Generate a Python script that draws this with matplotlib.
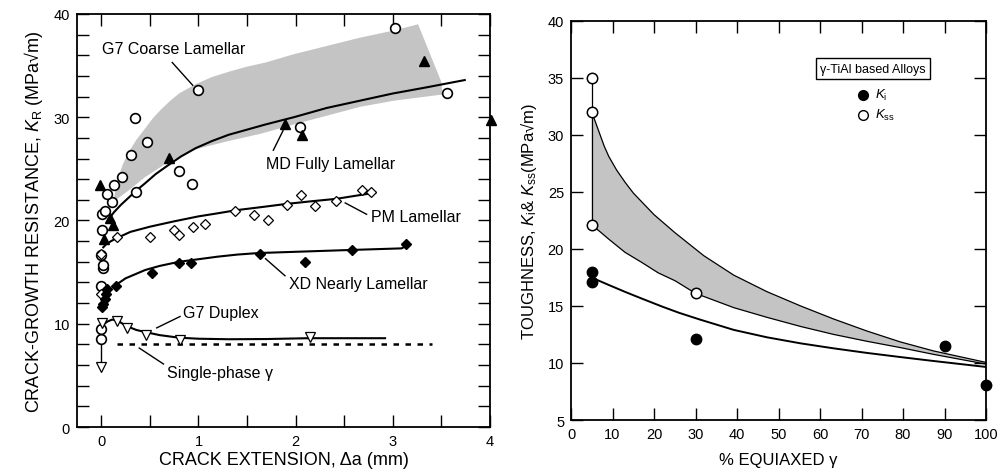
import matplotlib
matplotlib.use("Agg")
import matplotlib.pyplot as plt
from matplotlib.ticker import MultipleLocator

plt.rcParams['font.family'] = ['Liberation Sans', 'DejaVu Sans']
plt.rcParams['mathtext.fontset'] = 'custom'
plt.rcParams['mathtext.rm'] = 'Liberation Sans'
plt.rcParams['mathtext.it'] = 'Liberation Sans:italic'

# ---------------- Left panel: R-curves ----------------
g7_coarse_x = [0.00, 0.00, 0.00, 0.02, 0.02, 0.00, 0.01, 0.01, 0.04, 0.11, 0.06, 0.13, 0.21,
               0.36, 0.31, 0.47, 0.35, 0.80, 0.93, 0.99, 2.04, 3.02, 3.56]
g7_coarse_y = [8.5, 9.5, 13.7, 15.4, 15.7, 16.7, 19.1, 20.6, 20.95, 21.8, 22.6, 23.4, 24.2,
               22.8, 26.3, 27.6, 29.9, 24.8, 23.5, 32.6, 29.1, 38.6, 32.3]

md_x = [-0.01, 0.09, 0.12, 0.03, 0.70, 1.89, 2.07, 3.32, 4.01]
md_y = [23.4, 20.2, 19.6, 18.2, 26.1, 29.3, 28.3, 35.4, 29.7]

pm_x = [0.00, 0.00, 0.16, 0.50, 0.75, 0.80, 0.94, 1.07, 1.38, 1.57, 1.72, 1.91, 2.05, 2.20,
        2.41, 2.68, 2.78]
pm_y = [12.9, 16.8, 18.4, 18.4, 19.1, 18.6, 19.4, 19.7, 20.9, 20.5, 20.0, 21.5, 22.5, 21.4,
        21.9, 23.0, 22.8]

xd_x = [0.01, 0.02, 0.04, 0.05, 0.06, 0.15, 0.52, 0.80, 0.92, 1.63, 2.10, 2.58, 3.14]
xd_y = [11.6, 11.9, 12.4, 12.9, 13.4, 13.7, 14.9, 15.9, 15.9, 16.8, 16.0, 17.1, 17.7]

duplex_x = [0.01, 0.16, 0.26, 0.46, 0.81, 2.15, 0.00]
duplex_y = [10.1, 10.3, 9.6, 8.9, 8.4, 8.7, 5.8]

# fitted trend lines
md_fit_x = [0.09, 0.13, 0.20, 0.28, 0.36, 0.45, 0.56, 0.68, 0.82, 0.97, 1.14, 1.31, 1.50,
            1.69, 1.98, 2.32, 2.66, 3.00, 3.35, 3.74]
md_fit_y = [20.3, 20.8, 21.5, 22.2, 22.9, 23.6, 24.5, 25.3, 26.2, 27.0, 27.7, 28.3, 28.8,
            29.3, 30.0, 30.9, 31.6, 32.3, 32.9, 33.6]

pm_fit_x = [0.02, 0.05, 0.10, 0.16, 0.23, 0.30, 0.40, 0.50, 0.62, 0.74, 0.87, 1.00, 1.20,
            1.39, 1.65, 1.90, 2.15, 2.42, 2.62, 2.82]
pm_fit_y = [17.4, 17.7, 18.0, 18.3, 18.6, 18.9, 19.15, 19.4, 19.65, 19.9, 20.15, 20.4, 20.7,
            21.0, 21.3, 21.6, 21.85, 22.1, 22.4, 22.7]

xd_fit_x = [0.13, 0.18, 0.25, 0.35, 0.45, 0.60, 0.80, 1.00, 1.20, 1.40, 1.62, 2.10, 2.58,
            3.09, 3.12]
xd_fit_y = [13.6, 13.95, 14.4, 14.8, 15.2, 15.6, 16.0, 16.25, 16.5, 16.7, 16.85, 17.0, 17.15,
            17.3, 17.45]

duplex_fit_x = [0.02, 0.06, 0.11, 0.16, 0.22, 0.28, 0.36, 0.45, 0.60, 0.80, 1.00, 1.31, 1.70,
                2.13, 2.92]
duplex_fit_y = [9.9, 10.2, 10.4, 10.35, 10.0, 9.7, 9.4, 9.2, 8.9, 8.65, 8.55, 8.5, 8.52,
                8.6, 8.6]

single_phase_x = [0.16, 3.40]
single_phase_y = [8.0, 8.0]

arrow_x = [0.0, 0.0]
arrow_y = [8.4, 6.3]

# scatter band for G7 coarse lamellar
band_upper_x = [0.13, 0.15, 0.18, 0.22, 0.28, 0.36, 0.45, 0.53, 0.62, 0.71, 0.80, 0.97, 1.14,
                1.31, 1.50, 1.69, 1.98, 2.32, 2.66, 3.01, 3.26]
band_upper_y = [22.1, 23.2, 24.3, 25.4, 26.6, 27.8, 28.9, 29.9, 30.8, 31.6, 32.3, 33.2, 33.9,
                34.4, 34.9, 35.3, 36.1, 36.9, 37.7, 38.4, 39.0]
band_lower_x = [3.50, 3.51, 3.01, 2.66, 1.98, 1.64, 1.31, 0.97, 0.68, 0.45, 0.28, 0.15]
band_lower_y = [33.4, 32.2, 31.6, 31.0, 29.3, 28.4, 27.7, 26.9, 25.6, 24.2, 22.9, 22.0]

# ---------------- Right panel: toughness vs equiaxed gamma ----------------
ki_x = [5, 5, 30, 90, 100]
ki_y = [18.0, 17.1, 12.1, 11.5, 8.1]
kss_x = [5, 5, 5, 30]
kss_y = [35.0, 32.0, 22.1, 16.1]

ki_fit_x = [5.5, 9.0, 13.1, 17.0, 21.9, 26.0, 31.1, 39.2, 47.2, 55.3, 63.3, 71.3, 79.3,
            87.4, 100.0]
ki_fit_y = [17.4, 16.85, 16.22, 15.65, 14.95, 14.4, 13.8, 12.9, 12.25, 11.72, 11.28, 10.88,
            10.52, 10.17, 9.65]

kss_upper_x = [5.0, 6.0, 7.1, 8.0, 9.1, 11.0, 13.1, 15.0, 17.1, 20.0, 25.1, 32.0, 39.2, 47.2,
               55.3, 63.3, 71.3, 79.3, 87.4, 100.0]
kss_upper_y = [32.0, 31.0, 29.9, 29.0, 28.1, 26.9, 25.8, 24.9, 24.1, 23.0, 21.4, 19.4, 17.7,
               16.25, 15.0, 13.85, 12.8, 11.85, 11.05, 10.05]
kss_lower_x = [5.0, 7.0, 9.1, 13.0, 17.1, 21.0, 25.1, 30.0, 39.2, 47.2, 55.3, 63.3, 71.3,
               79.3, 87.4, 100.0]
kss_lower_y = [22.1, 21.5, 20.85, 19.7, 18.8, 17.9, 17.2, 16.1, 14.85, 14.0, 13.2, 12.5, 11.9,
               11.35, 10.75, 9.9]

fig = plt.figure(figsize=(9.99, 4.77), dpi=100)
ax1 = fig.add_axes([0.0771, 0.1027, 0.4134, 0.8659])
ax2 = fig.add_axes([0.5716, 0.1174, 0.4154, 0.8371])

grey = '#c4c4c4'
tick_kw = dict(direction='in', length=8.5, width=1.0, top=True, right=True, labelsize=10.5, pad=5)
lead_kw = dict(color='black', lw=1.0)
txt = 11.5

# ---- left panel ----
ax1.fill(band_upper_x + band_lower_x, band_upper_y + band_lower_y, color=grey, lw=0, zorder=1)
for fx, fy in [(md_fit_x, md_fit_y), (pm_fit_x, pm_fit_y), (xd_fit_x, xd_fit_y),
               (duplex_fit_x, duplex_fit_y)]:
    ax1.plot(fx, fy, color='black', lw=1.5, zorder=2, solid_joinstyle='round')
ax1.plot(single_phase_x, single_phase_y, color='black', lw=1.8, ls=(0, (2.2, 2.6)), zorder=2)
ax1.plot(arrow_x, arrow_y, color='black', lw=1.0, zorder=2)

ax1.plot(g7_coarse_x, g7_coarse_y, 'o', ms=7, mfc='white', mec='black', mew=1.2, zorder=4)
ax1.plot(md_x, md_y, '^', ms=7, mfc='black', mec='black', zorder=5, clip_on=False)
ax1.plot(pm_x, pm_y, 'D', ms=5, mfc='white', mec='black', mew=0.9, zorder=4)
ax1.plot(xd_x, xd_y, 'D', ms=5.5, mfc='black', mec='black', zorder=4)
ax1.plot(duplex_x, duplex_y, 'v', ms=7, mfc='white', mec='black', mew=0.9, zorder=4)

ax1.text(0.01, 36.7, 'G7 Coarse Lamellar', fontsize=txt, ha='left', va='center')
ax1.plot([0.73, 0.94], [35.3, 33.1], **lead_kw)
ax1.text(1.69, 25.5, 'MD Fully Lamellar', fontsize=txt, ha='left', va='center')
ax1.plot([1.77, 1.87], [26.8, 28.7], **lead_kw)
ax1.text(2.78, 20.4, 'PM Lamellar', fontsize=txt, ha='left', va='center')
ax1.plot([2.51, 2.73], [21.7, 20.6], **lead_kw)
ax1.text(1.93, 13.85, 'XD Nearly Lamellar', fontsize=txt, ha='left', va='center')
ax1.plot([1.69, 1.89], [16.3, 14.65], **lead_kw)
ax1.text(0.84, 11.1, 'G7 Duplex', fontsize=txt, ha='left', va='center')
ax1.plot([0.57, 0.81], [9.6, 10.7], **lead_kw)
ax1.text(0.68, 5.3, 'Single-phase γ', fontsize=txt, ha='left', va='center')
ax1.plot([0.39, 0.64], [7.65, 6.1], **lead_kw)

ax1.set_xlim(-0.25, 4)
ax1.set_ylim(0, 40)
ax1.xaxis.set_major_locator(MultipleLocator(1))
ax1.xaxis.set_minor_locator(MultipleLocator(0.5))
ax1.yaxis.set_major_locator(MultipleLocator(10))
ax1.yaxis.set_minor_locator(MultipleLocator(2))
ax1.tick_params(which='both', **tick_kw)
ax1.set_xlabel('CRACK EXTENSION, Δa (mm)', fontsize=13, labelpad=2)
ax1.set_ylabel(r'CRACK-GROWTH RESISTANCE, $\mathit{K}_{\mathrm{R}}$ (MPa√m)', fontsize=13, labelpad=6)
for s in ax1.spines.values():
    s.set_linewidth(1.3)

# ---- right panel ----
ax2.fill(kss_upper_x + kss_lower_x[::-1], kss_upper_y + kss_lower_y[::-1], color=grey, lw=0, zorder=1)
ax2.plot(kss_upper_x, kss_upper_y, color='black', lw=0.9, zorder=2, solid_joinstyle='round')
ax2.plot(kss_lower_x, kss_lower_y, color='black', lw=0.9, zorder=2, solid_joinstyle='round')
ax2.plot([kss_x[0], kss_x[2]], [kss_y[0], kss_y[2]], color='black', lw=0.9, zorder=2)
ax2.plot(ki_fit_x, ki_fit_y, color='black', lw=1.4, zorder=2, solid_joinstyle='round')
ax2.plot(ki_x, ki_y, 'o', ms=7.5, mfc='black', mec='black', zorder=4, clip_on=False)
ax2.plot(kss_x, kss_y, 'o', ms=7.5, mfc='white', mec='black', mew=1.1, zorder=4)

ax2.text(72.7, 35.8, 'γ-TiAl based Alloys', fontsize=9, ha='center', va='center',
         bbox=dict(boxstyle='square,pad=0.35', fc='white', ec='black', lw=1.0))
ax2.plot([70.4], [33.5], 'o', ms=7, mfc='black', mec='black')
ax2.plot([70.4], [31.75], 'o', ms=7, mfc='white', mec='black', mew=1.0)
ax2.text(73.2, 33.5, r'$\mathit{K}_{\mathrm{i}}$', fontsize=9.5, ha='left', va='center')
ax2.text(73.2, 31.75, r'$\mathit{K}_{\mathrm{ss}}$', fontsize=9.5, ha='left', va='center')

ax2.set_xlim(0, 100)
ax2.set_ylim(5, 40)
ax2.xaxis.set_major_locator(MultipleLocator(10))
ax2.yaxis.set_major_locator(MultipleLocator(5))
ax2.tick_params(which='both', **tick_kw)
ax2.set_xlabel('% EQUIAXED γ', fontsize=12, labelpad=8)
ax2.set_ylabel(r'TOUGHNESS, $\mathit{K}_{\mathrm{i}}$& $\mathit{K}_{\mathrm{ss}}$(MPa√m)', fontsize=12, labelpad=6)
for s in ax2.spines.values():
    s.set_linewidth(1.3)

fig.savefig('out.png', dpi=100)
